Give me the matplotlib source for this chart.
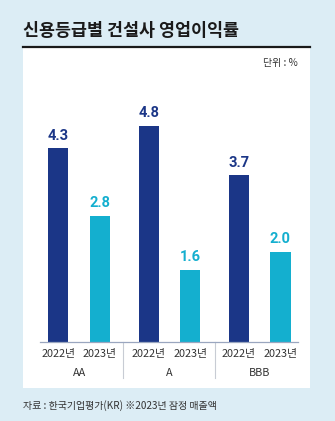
import numpy as np
import matplotlib.pyplot as plt
from matplotlib.patches import Rectangle
from matplotlib.lines import Line2D
from matplotlib.transforms import blended_transform_factory

plt.rcParams['font.family'] = ['Noto Sans CJK KR', 'DejaVu Sans']

# data
groups = ["AA", "A", "BBB"]
years = ["2022년", "2023년"]
v2022 = [4.3, 4.8, 3.7]
v2023 = [2.8, 1.6, 2.0]

navy = "#1b3687"
cyan = "#14afcf"
bg = "#dcedf5"

W, H = 335, 421
fig = plt.figure(figsize=(W / 100, H / 100), dpi=100)
fig.patch.set_facecolor(bg)

def fx(px):
    return px / W

def fy(py):
    return 1 - py / H

# white panel + rule under the title
fig.patches.append(Rectangle((fx(23), fy(388)), fx(310) - fx(23), fy(47) - fy(388),
                             transform=fig.transFigure, facecolor="white", edgecolor="none", zorder=-5))
fig.lines.append(Line2D([fx(23), fx(310)], [fy(46.5), fy(46.5)], transform=fig.transFigure,
                        color="#1a1a1a", lw=1.6))

fig.text(fx(23), fy(31), "신용등급별 건설사 영업이익률", fontsize=12.5, fontweight="bold",
         color="#1a1a1a", ha="left", va="center")
fig.text(fx(298), fy(63), "단위 : %", fontsize=7.2, color="#333333", ha="right", va="center")
fig.text(fx(23), fy(406), "자료 : 한국기업평가(KR) ※2023년 잠정 매출액", fontsize=7.2,
         color="#333333", ha="left", va="center")

# axes: baseline at y=341.7px, x span 40..298px
px_per_unit = 45.0
ax_top = 100
ax = fig.add_axes([fx(40), fy(341.7), fx(298) - fx(40), fy(ax_top) - fy(341.7)])
ax.set_zorder(2)
ax.set_facecolor("none")
ax.set_ylim(0, (341.7 - ax_top) / px_per_unit)
ax.set_xlim(-0.434, 2.424)

x = np.arange(len(groups))
off = 0.23
w = 0.222
b1 = ax.bar(x - off, v2022, width=w, color=navy, zorder=2)
b2 = ax.bar(x + off, v2023, width=w, color=cyan, zorder=2)

for bars, vals, c in [(b1, v2022, navy), (b2, v2023, cyan)]:
    for r, v in zip(bars, vals):
        ax.annotate(f"{v:.1f}", (r.get_x() + r.get_width() / 2, v), xytext=(0, 4),
                    textcoords="offset points", ha="center", va="bottom",
                    fontsize=10.5, fontweight="bold", color=c, family="Roboto")

for s in ["top", "right", "left"]:
    ax.spines[s].set_visible(False)
ax.spines["bottom"].set_color("#9aa6bf")
ax.spines["bottom"].set_linewidth(0.9)
ax.set_yticks([])

ticks = np.concatenate([x - off, x + off])
labels = [years[0]] * 3 + [years[1]] * 3
ax.set_xticks(ticks)
ax.set_xticklabels(labels, fontsize=7.8, color="#333333")
ax.tick_params(axis="x", length=0, pad=5)

tr = blended_transform_factory(ax.transData, ax.transAxes)
for g, name in zip(x, groups):
    ax.text(g, -31.5 / (341.7 - ax_top), name, transform=tr, ha="center", va="center",
            fontsize=7.8, color="#333333")

for sx in [0.48, 1.51]:
    ax.plot([sx, sx], [0, -36.5 / (341.7 - ax_top)], transform=tr, color="#c8ccd4",
            lw=0.8, clip_on=False)

fig.savefig("out.png", dpi=100, facecolor=bg)
